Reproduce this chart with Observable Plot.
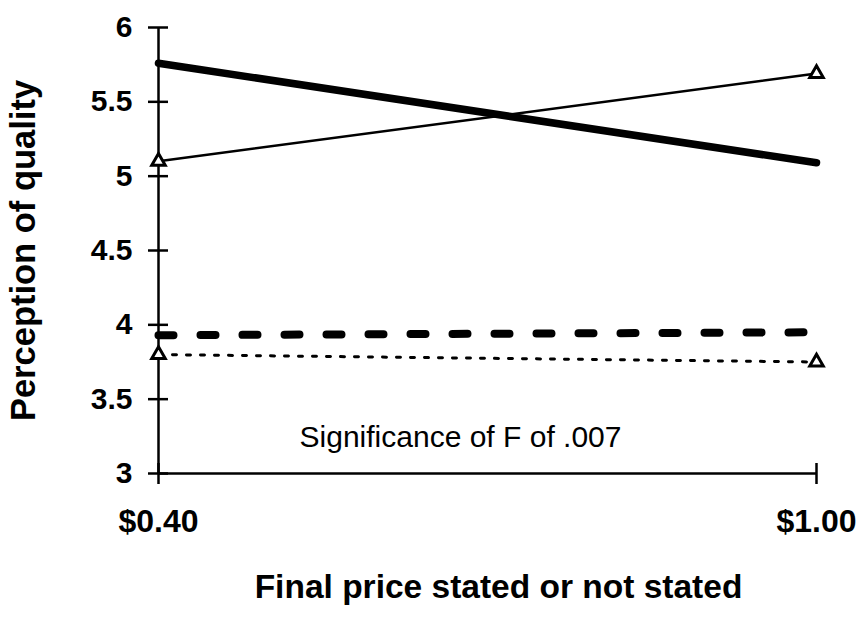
<!DOCTYPE html>
<html><head><meta charset="utf-8">
<script src="https://cdn.jsdelivr.net/npm/d3@7"></script>
<script src="https://cdn.jsdelivr.net/npm/@observablehq/plot@0.6"></script>
<style>body{margin:0;background:#fff}</style>
</head><body><div id="chart"></div>
<script>
const prices = ["$0.40", "$1.00"];
const thickSolid = [5.76, 5.09];
const thinSolid = [5.10, 5.69];
const thickDashed = [3.93, 3.95];
const dotted = [3.80, 3.75];
const yTicks = [3, 3.5, 4, 4.5, 5, 5.5, 6];
const yLabel = "Perception of quality";
const xLabel = "Final price stated or not stated";
const note = "Significance of F of .007";

const rows = vals => prices.map((p, i) => ({price: p, value: vals[i]}));
const font = "'Liberation Sans', Arial, sans-serif";

const chart = Plot.plot({
  width: 863,
  height: 619,
  marginLeft: 158,
  marginRight: 47,
  marginTop: 27,
  marginBottom: 146,
  style: {fontFamily: font, color: "#000", background: "#fff"},
  x: {type: "point", domain: prices, padding: 0, axis: null},
  y: {domain: [3, 6], axis: null},
  marks: [
    Plot.ruleX([prices[0]], {x: d => d, stroke: "#000", strokeWidth: 2.5}),
    Plot.ruleY([3], {y: d => d, stroke: "#000", strokeWidth: 2.5}),
    Plot.axisY(yTicks, {tickSize: 20, dx: 10, fill: "none", strokeWidth: 2.5, label: null}),
    Plot.axisY(yTicks, {tickSize: 0, tickPadding: 26, fontSize: 30, fontWeight: "bold", tickFormat: d => String(d), label: null}),
    Plot.axisX(prices, {tickSize: 21, dy: -10, fill: "none", strokeWidth: 2.5, label: null}),
    Plot.axisX(prices, {tickSize: 0, tickPadding: 36, fontSize: 32, fontWeight: "bold", label: null}),
    Plot.text([yLabel], {text: d => d, frameAnchor: "left", textAnchor: "middle", rotate: -90, dx: -135, fontSize: 34.5, fontWeight: "bold"}),
    Plot.text([xLabel], {text: d => d, frameAnchor: "bottom", textAnchor: "middle", dx: 11, dy: 124, fontSize: 33.5, fontWeight: "bold"}),
    Plot.text([note], {text: d => d, frameAnchor: "bottom", textAnchor: "middle", dx: -27, dy: -27, fontSize: 30}),
    Plot.line(rows(thickSolid), {x: "price", y: "value", stroke: "#000", strokeWidth: 7.5, strokeLinecap: "round"}),
    Plot.line(rows(thinSolid), {x: "price", y: "value", stroke: "#000", strokeWidth: 2.5}),
    Plot.line(rows(thickDashed), {x: "price", y: "value", stroke: "#000", strokeWidth: 8, strokeDasharray: "15,27"}),
    Plot.line(rows(dotted), {x: "price", y: "value", stroke: "#000", strokeWidth: 3, strokeDasharray: "4,10"}),
    Plot.dot(rows(thinSolid), {x: "price", y: "value", symbol: "triangle", r: 5, stroke: "#000", fill: "#fff", strokeWidth: 3}),
    Plot.dot(rows(dotted), {x: "price", y: "value", symbol: "triangle", r: 5, stroke: "#000", fill: "#fff", strokeWidth: 3})
  ]
});
document.getElementById("chart").append(chart);
</script>
</body></html>
